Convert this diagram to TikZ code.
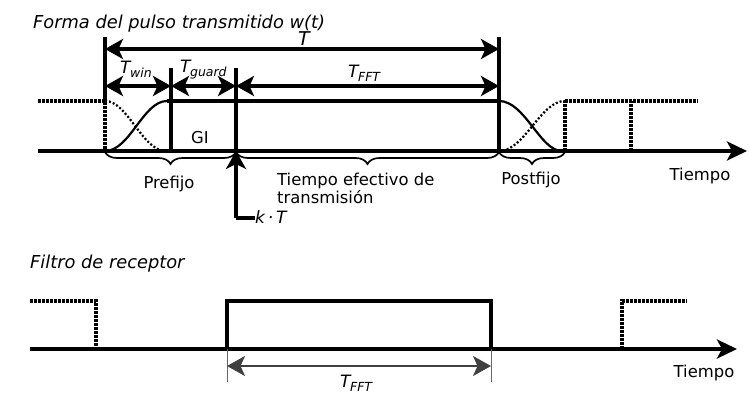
\documentclass[tikz,border=0pt]{standalone}
\usepackage{fontspec}
\setmainfont{DejaVu Sans}
\usetikzlibrary{arrows.meta,decorations.pathreplacing}
\tikzstyle{every picture}=[x=1pt,y=-1pt]
\tikzstyle{linie}=[line width=3.2pt]
\tikzstyle{duenn}=[line width=1pt,draw=black!60]
\tikzstyle{achse}=[line width=3.6pt,-{Stealth[length=20pt,width=19pt,inset=5pt]}]
\tikzstyle{pfeil}=[line width=3.2pt,{Stealth[length=18pt,width=20pt,inset=4.5pt]}-{Stealth[length=18pt,width=20pt,inset=4.5pt]}]
\tikzstyle{punkte}=[line width=3.4pt,dash pattern=on 2.6pt off 1.4pt]
\tikzstyle{kurve}=[line width=2.2pt]
\tikzstyle{kurvepunkte}=[line width=2.2pt,dash pattern=on 2pt off 2pt]
\tikzstyle{klammer}=[line width=1.7pt,decorate,decoration={brace,mirror,amplitude=12pt,raise=1pt}]
\tikzstyle{txt}=[inner sep=0pt,font=\fontsize{16.4}{18}\selectfont]
\tikzstyle{ktxt}=[inner sep=0pt,font=\fontsize{17}{19}\selectfont\itshape]
\tikzstyle{titel}=[inner sep=0pt,font=\fontsize{17.8}{20}\selectfont\itshape]
\newcommand{\Tind}[1]{T\kern-0.5pt\raisebox{-4.5pt}{\fontsize{12.5}{12.5}\selectfont #1}}

\begin{document}
\begin{tikzpicture}
  \useasboundingbox (0,0) rectangle (749,407);
  % Punkte oben festlegen
  \coordinate (a) at (105,151);
  \coordinate (b) at (171,151);
  \coordinate (c) at (236,151);
  \coordinate (d) at (499,151);
  \coordinate (e) at (565,151);
  \coordinate (f) at (631,151);
  \coordinate (hoch) at (0,101);
  \coordinate (pT) at (0,49);
  \coordinate (pS) at (0,86);
  \coordinate (kT) at (236,218);
  % Achse oben zeichnen
  \draw[achse] (38,151) -- (747,151);
  % Puls zeichnen
  \draw[punkte] (38,101) -- (a |- hoch) -- (a);
  \draw[kurvepunkte] (a |- hoch) .. controls (128,101) and (142,151) .. (166,151);
  \draw[kurve] (a) .. controls (130,151) and (143,101) .. (167,101);
  \draw[linie] (167,101) -- (d |- hoch);
  \draw[kurve] (d |- hoch) .. controls (525,101) and (540,151) .. (562,151);
  \draw[kurvepunkte] (d) .. controls (525,151) and (540,101) .. (e |- hoch);
  \draw[punkte] (e |- hoch) -- (698,101);
  \foreach \p in {e,f}
    \draw[punkte] (\p) -- (\p |- hoch);
  % Grenzen zeichnen
  \draw[linie] (105,37) -- (a |- hoch);
  \draw[linie] (499,37) -- (d);
  \draw[linie] (171,68) -- (b);
  \draw[linie] (236,68) -- (c);
  % Pfeile zeichnen
  \draw[pfeil] (a |- pT) -- (d |- pT);
  \foreach \s/\z in {a/b,b/c,c/d}
    \draw[pfeil] (\s |- pS) -- (\z |- pS);
  % Klammern zeichnen
  \draw[klammer] (a) -- (c);
  \draw[klammer] (c) -- (d);
  \draw[klammer] (d) -- (e);
  % Beschriftung oben
  \node[titel,anchor=base west] (titel1) at (33,28) {Forma del pulso transmitido w(t)};
  \node[ktxt,font=\fontsize{19}{20}\selectfont\itshape,anchor=base] (lT) at (304,45) {T};
  \node[ktxt,anchor=base west] (lwin) at (120,73) {\Tind{win}};
  \node[ktxt,anchor=base west] (lguard) at (180,72) {\Tind{guard}};
  \node[ktxt,anchor=base west] (lfft) at (348,77) {\Tind{FFT}};
  \node[txt,anchor=base west] (gi) at (191,143) {GI};
  \node[txt,anchor=base] (pre) at (169,188) {Prefijo};
  \node[txt,anchor=north west,align=left] (eff) at (277,173) {Tiempo efectivo de\\transmisión};
  \node[txt,anchor=base] (post) at (531,184) {Postfijo};
  \node[txt,anchor=base] (t1) at (700,180) {Tiempo};
  % k*T Marke
  \node[ktxt,anchor=base west] (lkT) at (255,223) {k\,·\,T};
  \draw[linie,-{Stealth[length=18pt,width=20pt,inset=5pt]}] (kT) -- (c);
  \draw[linie] (kT) -- (lkT.west |- kT);

  % Punkte unten festlegen
  \coordinate (g) at (96,349);
  \coordinate (h) at (227,349);
  \coordinate (i) at (491,349);
  \coordinate (j) at (622,349);
  \coordinate (hoch2) at (0,301);
  \coordinate (pF) at (0,366);
  \coordinate (unten) at (0,382);
  % Achse unten zeichnen
  \draw[achse] (30,349) -- (737,349);
  % Filter zeichnen
  \draw[punkte] (30,301) -- (g |- hoch2) -- (g);
  \draw[linie] (h) -- (h |- hoch2) -- (i |- hoch2) -- (i);
  \draw[punkte] (j) -- (j |- hoch2) -- (687,301);
  \foreach \p in {h,i}
    \draw[duenn] (\p) -- (\p |- unten);
  \draw[pfeil,line width=1.8pt,draw=black!75] (h |- pF) -- (i |- pF);
  % Beschriftung unten
  \node[titel,anchor=base west] (titel2) at (30,268) {Filtro de receptor};
  \node[ktxt,anchor=base west] (lfft2) at (340,387) {\Tind{FFT}};
  \node[txt,anchor=base] (t2) at (704,377) {Tiempo};
\end{tikzpicture}
\end{document}
